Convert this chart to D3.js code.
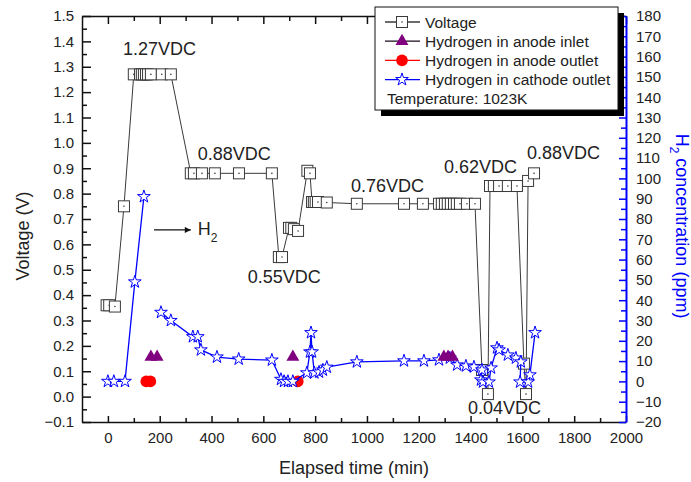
<!DOCTYPE html>
<html>
<head>
<meta charset="utf-8">
<script src="https://d3js.org/d3.v7.min.js"></script>
<style>
  body { margin: 0; background: #fff; }
  svg { display: block; font-family: "Liberation Sans", Arial, sans-serif; }
</style>
</head>
<body>
<div id="chart-area"></div>
<script>
// cell voltage (time in min, volts)
const voltageTime = [-5, 5, 27, 62, 100, 124, 131, 139, 147, 155, 166, 208, 243,
  320, 332, 363, 413, 506, 633, 660, 672, 699, 708, 718, 734, 770, 780,
  788, 795, 802, 811, 845, 961, 1143, 1216, 1278, 1289, 1301, 1312, 1324,
  1336, 1347, 1359, 1386, 1417, 1444, 1467, 1475, 1490, 1510, 1544, 1579,
  1606, 1614, 1622, 1645];
const voltageValue = [0.36, 0.36, 0.355, 0.75, 1.27, 1.27, 1.27, 1.27, 1.27, 1.27, 1.27, 1.27, 1.27,
  0.88, 0.88, 0.88, 0.88, 0.88, 0.88, 0.55, 0.55, 0.665, 0.665, 0.66, 0.653, 0.89, 0.88,
  0.767, 0.767, 0.767, 0.767, 0.765, 0.76, 0.76, 0.76, 0.76, 0.76, 0.76, 0.76, 0.76,
  0.76, 0.76, 0.76, 0.76, 0.76, 0.105, 0.01, 0.83, 0.83, 0.83, 0.83, 0.83,
  0.13, 0.01, 0.85, 0.88];

// H2 in cathode outlet (ppm), null = gap in the record
const cathodeTime = [0, 23, 66, 104, 139, null, 205, 243, 328, 347, 359, 421, 505, 633,
  668, 680, 695, 714, 768, 780, 784, 788, 797, 815, 830, 845, 961, 1143, 1220, 1278,
  1320, 1348, 1382, 1413, 1444, 1440, 1448, 1471, 1479, 1502, 1510, 1544, 1575,
  1594, 1591, 1622, 1629, 1649];
const cathodePpm = [0, 0, 0, 49, 91, null, 34, 30, 22, 22, 15.5, 12, 11, 10.5,
  1, 0, 0, 0, 4.2, 14.5, 24, 14.5, 4.2, 4.6, 5.6, 7, 9.6, 10.1, 10.1, 10.6,
  11.5, 8.1, 7.6, 7.1, 5.6, 0.7, -0.3, -0.3, 6.6, 16.5, 15.5, 13, 11.5,
  9.6, -0.3, -0.3, 3.2, 24];

// H2 in anode inlet (ppm)
const inletTime = [166, 190, 714, 1297, 1313, 1330];
const inletPpm = [12, 12, 12, 12, 12, 12];

// H2 in anode outlet (ppm)
const outletTime = [148, 164, 733];
const outletPpm = [0, 0, 0];

const timeTicks = [0, 200, 400, 600, 800, 1000, 1200, 1400, 1600, 1800, 2000];
const voltTicks = [-0.1, 0, 0.1, 0.2, 0.3, 0.4, 0.5, 0.6, 0.7, 0.8, 0.9, 1.0, 1.1, 1.2, 1.3, 1.4, 1.5];
const ppmTicks = [-20, -10, 0, 10, 20, 30, 40, 50, 60, 70, 80, 90, 100, 110, 120, 130, 140, 150, 160, 170, 180];

const legendNames = ["Voltage", "Hydrogen in anode inlet", "Hydrogen in anode outlet", "Hydrogen in cathode outlet"];
const legendNote = "Temperature: 1023K";

const W = 691, H = 482;
const PLOT = { LEFT: 82, RIGHT: 626, TOP: 16, BOTTOM: 422 };
const BLUE = "#0000ff";
const PURPLE = "#800080";
const RED = "#ff0000";
const GREY = "#3a3a3a";

class VoltageChart {
  constructor(_chartLocation) {
    this.chartLocation = _chartLocation;
    this.initVis();
  }

  initVis() {
    const vis = this;

    vis.svg = d3.select(vis.chartLocation)
      .append("svg")
      .attr("width", W)
      .attr("height", H);

    vis.x = d3.scaleLinear().domain([-100, 2000]).range([PLOT.LEFT, PLOT.RIGHT]);
    vis.yV = d3.scaleLinear().domain([-0.1, 1.5]).range([PLOT.BOTTOM, PLOT.TOP]);
    vis.yH = d3.scaleLinear().domain([-20, 180]).range([PLOT.BOTTOM, PLOT.TOP]);

    vis.star = d3.symbol().type(d3.symbolStar).size(50);
    vis.triangle = d3.symbol().type(d3.symbolTriangle).size(72);

    vis.wrangleData();
  }

  wrangleData() {
    const vis = this;
    vis.voltage = voltageTime.map((t, i) => ({ t: t, v: voltageValue[i] }));
    vis.cathode = cathodeTime.map((t, i) => ({ t: t, v: cathodePpm[i] }));
    vis.inlet = inletTime.map((t, i) => ({ t: t, v: inletPpm[i] }));
    vis.outlet = outletTime.map((t, i) => ({ t: t, v: outletPpm[i] }));
    vis.updateVis();
  }

  drawAxes() {
    const vis = this;
    const minorT = d3.range(100, 2000, 200);
    const minorV = d3.range(-0.05, 1.5, 0.1);
    const minorH = d3.range(-15, 180, 10);

    // bottom
    const bottom = vis.svg.append("g").attr("transform", `translate(0,${PLOT.BOTTOM})`);
    bottom.call(d3.axisBottom(vis.x).tickValues(timeTicks).tickSize(-6).tickSizeOuter(0)
      .tickPadding(10).tickFormat(d3.format("d")));
    bottom.append("g").call(d3.axisBottom(vis.x).tickValues(minorT).tickSize(-4).tickFormat(""))
      .select(".domain").remove();

    // top (mirror, no labels)
    const top = vis.svg.append("g").attr("transform", `translate(0,${PLOT.TOP})`);
    top.call(d3.axisTop(vis.x).tickValues(timeTicks).tickSize(-8).tickSizeOuter(0).tickFormat(""));
    top.append("g").call(d3.axisTop(vis.x).tickValues(minorT).tickSize(-5).tickFormat(""))
      .select(".domain").remove();

    // left (voltage)
    const left = vis.svg.append("g").attr("transform", `translate(${PLOT.LEFT},0)`);
    left.call(d3.axisLeft(vis.yV).tickValues(voltTicks).tickSize(-9).tickSizeOuter(0)
      .tickPadding(8).tickFormat(d3.format(".1f")));
    left.append("g").call(d3.axisLeft(vis.yV).tickValues(minorV).tickSize(-5).tickFormat(""))
      .select(".domain").remove();

    [bottom, top, left].forEach((g) => {
      g.selectAll("path, line").attr("stroke", "#111").attr("stroke-width", 1.5);
      g.selectAll("text").attr("font-size", 15).attr("fill", "#222").attr("font-family", null);
    });

    // right (H2 ppm), blue
    const right = vis.svg.append("g").attr("transform", `translate(${PLOT.RIGHT},0)`);
    right.call(d3.axisRight(vis.yH).tickValues(ppmTicks).tickSize(-7).tickSizeOuter(0).tickPadding(10));
    right.append("g").call(d3.axisRight(vis.yH).tickValues(minorH).tickSize(-5).tickFormat(""))
      .select(".domain").remove();
    right.selectAll("path, line").attr("stroke", BLUE).attr("stroke-width", 1.5);
    right.select(".domain").attr("stroke-width", 2);
    right.selectAll("text").attr("font-size", 15).attr("fill", "#222").attr("font-family", null);

    // axis titles
    vis.svg.append("text")
      .attr("x", 354).attr("y", 474)
      .attr("text-anchor", "middle")
      .attr("font-size", 18).attr("fill", "#222")
      .text("Elapsed time (min)");

    vis.svg.append("text")
      .attr("transform", "translate(29,236) rotate(-90)")
      .attr("text-anchor", "middle")
      .attr("font-size", 18).attr("fill", "#222")
      .text("Voltage (V)");

    const yTitle = vis.svg.append("text")
      .attr("transform", "translate(676,226) rotate(90)")
      .attr("text-anchor", "middle")
      .attr("font-size", 18).attr("fill", BLUE);
    yTitle.append("tspan").text("H");
    yTitle.append("tspan").attr("font-size", 12).attr("dy", 6).text("2");
    yTitle.append("tspan").attr("dy", -6).text(" concentration (ppm)");
  }

  drawSquare(sel, size) {
    sel.append("rect")
      .attr("x", -size / 2).attr("y", -size / 2)
      .attr("width", size).attr("height", size)
      .attr("fill", "#fff").attr("stroke", GREY).attr("stroke-width", 1);
    sel.append("circle").attr("r", 0.8).attr("fill", GREY);
  }

  updateVis() {
    const vis = this;

    vis.drawAxes();

    // voltage line + squares
    const vLine = d3.line().x((d) => vis.x(d.t)).y((d) => vis.yV(d.v));
    vis.svg.append("path")
      .attr("d", vLine(vis.voltage))
      .attr("fill", "none").attr("stroke", GREY).attr("stroke-width", 1);

    vis.svg.selectAll(".vpoint")
      .data(vis.voltage)
      .enter()
      .append("g")
      .attr("class", "vpoint")
      .attr("transform", (d) => `translate(${vis.x(d.t)},${vis.yV(d.v)})`)
      .each(function () { vis.drawSquare(d3.select(this), 11); });

    // anode outlet circles
    vis.svg.selectAll(".outlet")
      .data(vis.outlet)
      .enter()
      .append("circle")
      .attr("class", "outlet")
      .attr("cx", (d) => vis.x(d.t))
      .attr("cy", (d) => vis.yH(d.v))
      .attr("r", 5.8)
      .attr("fill", RED);

    // cathode outlet stars
    const hLine = d3.line()
      .defined((d) => d.t !== null)
      .x((d) => vis.x(d.t)).y((d) => vis.yH(d.v));
    vis.svg.append("path")
      .attr("d", hLine(vis.cathode))
      .attr("fill", "none").attr("stroke", BLUE).attr("stroke-width", 1.3);

    vis.svg.selectAll(".star")
      .data(vis.cathode.filter((d) => d.t !== null))
      .enter()
      .append("path")
      .attr("class", "star")
      .attr("d", vis.star)
      .attr("transform", (d) => `translate(${vis.x(d.t)},${vis.yH(d.v)})`)
      .attr("fill", "#fff").attr("stroke", BLUE).attr("stroke-width", 1);

    // anode inlet triangles
    vis.svg.selectAll(".inlet")
      .data(vis.inlet)
      .enter()
      .append("path")
      .attr("class", "inlet")
      .attr("d", vis.triangle)
      .attr("transform", (d) => `translate(${vis.x(d.t)},${vis.yH(d.v)})`)
      .attr("fill", PURPLE);

    // annotations (anchored in data units)
    const notes = [
      { text: "1.27VDC", t: 58, v: 1.346 },
      { text: "0.88VDC", t: 347, v: 0.933 },
      { text: "0.55VDC", t: 540, v: 0.448 },
      { text: "0.76VDC", t: 938, v: 0.806 },
      { text: "0.62VDC", t: 1297, v: 0.881 },
      { text: "0.88VDC", t: 1618, v: 0.936 },
      { text: "0.04VDC", t: 1390, v: -0.068 },
    ];
    vis.svg.selectAll(".note")
      .data(notes)
      .enter()
      .append("text")
      .attr("class", "note")
      .attr("x", (d) => vis.x(d.t))
      .attr("y", (d) => vis.yV(d.v))
      .attr("font-size", 18).attr("fill", "#222")
      .text((d) => d.text);

    // H2 arrow
    vis.svg.append("defs").append("marker")
      .attr("id", "arrow")
      .attr("viewBox", "0 0 10 10")
      .attr("refX", 10).attr("refY", 5)
      .attr("markerWidth", 10).attr("markerHeight", 6)
      .attr("markerUnits", "userSpaceOnUse")
      .attr("orient", "auto")
      .append("path").attr("d", "M0,0L10,5L0,10Z").attr("fill", "#111");
    vis.svg.append("line")
      .attr("x1", vis.x(178)).attr("x2", vis.x(320))
      .attr("y1", vis.yV(0.657)).attr("y2", vis.yV(0.657))
      .attr("stroke", "#111").attr("stroke-width", 1.2)
      .attr("marker-end", "url(#arrow)");
    const h2 = vis.svg.append("text")
      .attr("x", vis.x(347)).attr("y", vis.yV(0.637))
      .attr("font-size", 18).attr("fill", "#222");
    h2.append("tspan").text("H");
    h2.append("tspan").attr("font-size", 12).attr("dy", 7).text("2");

    vis.drawLegend();
  }

  drawLegend() {
    const vis = this;
    const lg = vis.svg.append("g").attr("transform", "translate(375,7)");
    const bw = 243, bh = 103;

    lg.append("rect").attr("x", 6).attr("y", 6).attr("width", bw).attr("height", bh).attr("fill", "#000");
    lg.append("rect").attr("width", bw).attr("height", bh)
      .attr("fill", "#fff").attr("stroke", "#111").attr("stroke-width", 1);

    const lineColors = [GREY, "#1a0a1a", RED, BLUE];
    const rows = lg.selectAll(".legend")
      .data(legendNames)
      .enter()
      .append("g")
      .attr("class", "legend")
      .attr("transform", (d, i) => `translate(0,${15 + i * 19.2})`);

    rows.append("line")
      .attr("x1", 10).attr("x2", 45)
      .attr("stroke", (d, i) => lineColors[i]).attr("stroke-width", 1.3);

    rows.each(function (d, i) {
      const g = d3.select(this).append("g").attr("transform", "translate(27,0)");
      if (i === 0) vis.drawSquare(g, 11);
      if (i === 1) g.append("path").attr("d", vis.triangle).attr("fill", PURPLE);
      if (i === 2) g.append("circle").attr("r", 5.8).attr("fill", RED);
      if (i === 3) g.append("path").attr("d", vis.star)
        .attr("fill", "#fff").attr("stroke", BLUE).attr("stroke-width", 1);
    });

    rows.append("text")
      .attr("x", 50).attr("y", 5.5)
      .attr("font-size", 15.5).attr("fill", "#222")
      .text((d) => d);

    lg.append("text")
      .attr("x", 12).attr("y", 15 + 4 * 19.2 + 5.5)
      .attr("font-size", 15.5).attr("fill", "#222")
      .text(legendNote);
  }
}

new VoltageChart("#chart-area");
</script>
</body>
</html>
